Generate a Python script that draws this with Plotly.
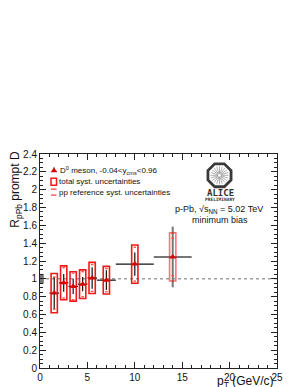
import math
import plotly.graph_objects as go

# ---- data ----
pt = [1.5, 2.5, 3.5, 4.5, 5.5, 7.0, 10.0, 14.0]
pt_halfwidth = [0.5, 0.5, 0.5, 0.5, 0.5, 1.0, 2.0, 2.0]
rppb = [0.84, 0.955, 0.915, 0.94, 1.01, 0.985, 1.165, 1.245]
stat_err = [0.18, 0.10, 0.085, 0.08, 0.12, 0.11, 0.13, 0.34]
syst_err = [0.22, 0.19, 0.165, 0.16, 0.175, 0.155, 0.215, 0.27]
pp_syst_err = [0.18, 0.17, 0.15, 0.14, 0.15, 0.13, 0.19, 0.21]
norm_unc = 0.055

x_range = [0, 25]
y_range = [0, 2.4]
x_ticks = [0, 5, 10, 15, 20, 25]
y_ticks = [0, 0.2, 0.4, 0.6, 0.8, 1, 1.2, 1.4, 1.6, 1.8, 2, 2.2, 2.4]
y_ticktext = ["0", "0.2", "0.4", "0.6", "0.8", "1", "1.2", "1.4", "1.6", "1.8", "2", "2.2", "2.4"]

# ---- layout geometry (pixels) ----
WIDTH, HEIGHT = 299, 387
L, R, T, B = 32, 269, 146, 362
PW, PH = R - L, B - T


def px(x):
    return (x - L) / PW


def py(y):
    return (B - y) / PH


FONT = "Liberation Sans"
box_w = 0.33
pp_w = 0.13

fig = go.Figure()
shapes = []

# dotted line at 1
shapes.append(dict(type="line", xref="x", yref="y", x0=x_range[0], x1=x_range[1], y0=1, y1=1,
                   line=dict(color="#a0a0a0", width=1.5, dash="dot"), layer="below"))
# normalisation box
shapes.append(dict(type="rect", xref="x", yref="y", x0=0, x1=0.4, y0=1 - norm_unc, y1=1 + norm_unc,
                   fillcolor="#777777", line=dict(width=0), layer="below"))

# total systematic boxes and pp reference dashes
for i, (x, y, s, pps) in enumerate(zip(pt, rppb, syst_err, pp_syst_err)):
    col = "rgba(255,0,0,0.55)" if i == len(pt) - 1 else "rgba(240,0,0,0.9)"
    shapes.append(dict(type="rect", xref="x", yref="y", x0=x - box_w, x1=x + box_w, y0=y - s, y1=y + s,
                       line=dict(color=col, width=1.6), fillcolor="rgba(0,0,0,0)"))
    for yy in (y - pps, y + pps):
        shapes.append(dict(type="line", xref="x", yref="y", x0=x - pp_w, x1=x + pp_w, y0=yy, y1=yy,
                           line=dict(color="rgba(255,60,60,0.9)", width=1.4)))

n = len(pt) - 1
fig.add_trace(go.Scatter(
    x=pt[:n], y=rppb[:n], mode="markers",
    marker=dict(symbol="triangle-up", size=6, color="#dd0000"),
    error_y=dict(type="data", array=stat_err[:n], color="#111111", thickness=1.2, width=0),
    error_x=dict(type="data", array=pt_halfwidth[:n], color="#111111", thickness=1.2, width=0),
    showlegend=False, hoverinfo="skip"))
fig.add_trace(go.Scatter(
    x=pt[n:], y=rppb[n:], mode="markers",
    marker=dict(symbol="triangle-up", size=6, color="#dd0000"),
    error_y=dict(type="data", array=stat_err[n:], color="#777777", thickness=2, width=0),
    error_x=dict(type="data", array=pt_halfwidth[n:], color="#777777", thickness=2, width=0),
    showlegend=False, hoverinfo="skip"))

# ---- manual legend ----
leg_x = (46 - L) / PW * (x_range[1] - x_range[0])
leg_y = (B - 163) / PH * (y_range[1] - y_range[0])
fig.add_trace(go.Scatter(x=[leg_x], y=[leg_y], mode="markers",
                         marker=dict(symbol="triangle-up", size=6, color="#dd0000"),
                         error_y=dict(type="data", array=[0.04], arrayminus=[0.0], color="#111111",
                                      thickness=1, width=0),
                         showlegend=False, hoverinfo="skip"))
shapes.append(dict(type="rect", xref="paper", yref="paper", x0=px(43), x1=px(48.5), y0=py(177.5), y1=py(170.5),
                   line=dict(color="rgba(240,0,0,0.9)", width=1.5)))
for yy in (181.5, 187.5):
    shapes.append(dict(type="line", xref="paper", yref="paper", x0=px(43), x1=px(48.5), y0=py(yy), y1=py(yy),
                       line=dict(color="rgba(255,60,60,0.9)", width=1.4)))

annotations = []
leg_font = dict(family=FONT, size=8, color="#111111")
annotations.append(dict(xref="paper", yref="paper", x=px(50), y=py(163), xanchor="left", yanchor="middle",
                        text="D<sup>0</sup> meson, -0.04&lt;y<sub>cms</sub>&lt;0.96", showarrow=False,
                        font=leg_font))
annotations.append(dict(xref="paper", yref="paper", x=px(49), y=py(174), xanchor="left", yanchor="middle",
                        text="total syst. uncertainties", showarrow=False, font=leg_font))
annotations.append(dict(xref="paper", yref="paper", x=px(49), y=py(184.5), xanchor="left", yanchor="middle",
                        text="pp reference syst. uncertainties", showarrow=False, font=leg_font))

# ---- ALICE logo ----
cx, cy, rad = 211.5, 167.5, 12.5
pts = []
for k in range(8):
    a = math.radians(22.5 + 45 * k)
    pts.append((px(cx + rad * math.cos(a)), py(cy + rad * math.sin(a))))
path = "M " + " L ".join(f"{a:.5f},{b:.5f}" for a, b in pts) + " Z"
shapes.append(dict(type="path", xref="paper", yref="paper", path=path,
                   line=dict(color="#3a3a3a", width=2.8), fillcolor="white"))
for k in range(20):
    a = math.radians(18 * k)
    shapes.append(dict(type="line", xref="paper", yref="paper",
                       x0=px(cx + 1.5 * math.cos(a)), y0=py(cy + 1.5 * math.sin(a)),
                       x1=px(cx + 9 * math.cos(a)), y1=py(cy + 9 * math.sin(a)),
                       line=dict(color="#9a9a9a", width=0.8)))
annotations.append(dict(xref="paper", yref="paper", x=px(212), y=py(185), xanchor="center", yanchor="middle",
                        text="<b>ALICE</b>", showarrow=False,
                        font=dict(family="DejaVu Sans Mono", size=9, color="#333333")))
annotations.append(dict(xref="paper", yref="paper", x=px(212), y=py(191.5), xanchor="center", yanchor="middle",
                        text="<b>PRELIMINARY</b>", showarrow=False,
                        font=dict(family="DejaVu Sans Mono", size=4.5, color="#333333")))
annotations.append(dict(xref="paper", yref="paper", x=px(211), y=py(202), xanchor="center", yanchor="middle",
                        text="p-Pb, √s<sub>NN</sub> = 5.02 TeV", showarrow=False,
                        font=dict(family=FONT, size=9, color="#111111")))
annotations.append(dict(xref="paper", yref="paper", x=px(212), y=py(213), xanchor="center", yanchor="middle",
                        text="minimum bias", showarrow=False,
                        font=dict(family=FONT, size=9, color="#111111")))

# ---- axis titles ----
annotations.append(dict(xref="paper", yref="paper", x=px(8), y=py(182), xanchor="center", yanchor="middle",
                        text="R<sub>pPb</sub> prompt D", textangle=-90, showarrow=False,
                        font=dict(family=FONT, size=12, color="#111111")))
annotations.append(dict(xref="paper", yref="paper", x=px(267), y=py(376.5), xanchor="right", yanchor="middle",
                        text="p<sub>T</sub> (GeV/c)", showarrow=False,
                        font=dict(family=FONT, size=12, color="#111111")))
annotations.append(dict(xref="paper", yref="paper", x=px(0), y=py(383.5), xanchor="left", yanchor="middle",
                        text="ALI-PREL-53597", showarrow=False,
                        font=dict(family="DejaVu Sans Mono", size=5, color="#999999")))

axis_common = dict(showgrid=False, zeroline=False, showline=True, linecolor="#222222", linewidth=1,
                   mirror="ticks", ticks="inside", tickcolor="#222222", ticklen=6, tickwidth=1,
                   tickfont=dict(family=FONT, size=10, color="#111111"))

fig.update_layout(
    width=WIDTH, height=HEIGHT,
    margin=dict(l=L, r=WIDTH - R, t=T, b=HEIGHT - B),
    paper_bgcolor="white", plot_bgcolor="white",
    shapes=shapes, annotations=annotations,
    xaxis=dict(range=x_range, tickvals=x_ticks, ticktext=[str(v) for v in x_ticks],
               minor=dict(dtick=1, ticks="inside", ticklen=3, tickcolor="#222222"), **axis_common),
    yaxis=dict(range=y_range, tickvals=y_ticks, ticktext=y_ticktext,
               minor=dict(dtick=0.05, ticks="inside", ticklen=3, tickcolor="#222222"), **axis_common),
    showlegend=False,
)

fig.write_html("out.html")
